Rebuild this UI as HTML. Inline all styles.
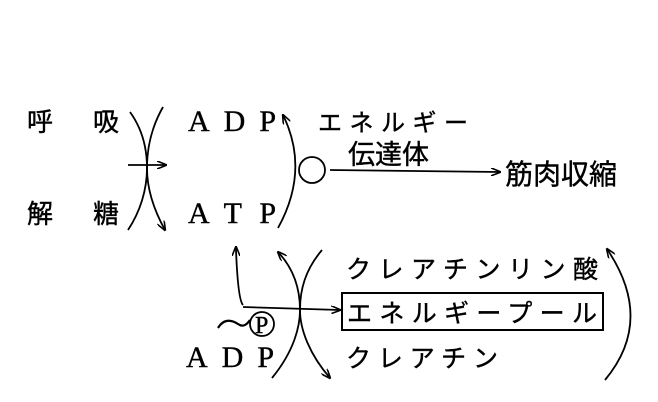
<!DOCTYPE html>
<html><head><meta charset="utf-8"><style>
html,body{margin:0;padding:0;background:#fff;}
svg{display:block}
text{font-family:"Liberation Serif","Noto Serif CJK SC",serif;fill:#000;stroke:#000;stroke-width:0.4}
.j{font-family:"Liberation Sans","Noto Sans CJK JP",sans-serif}
</style></head><body>
<svg width="658" height="402" viewBox="0 0 658 402" xmlns="http://www.w3.org/2000/svg">
<defs><marker id="a" markerWidth="10" markerHeight="8" refX="9" refY="4" orient="auto" markerUnits="userSpaceOnUse"><path d="M0,0 L10,4 L0,8" fill="none" stroke="#000" stroke-width="1.6"/></marker></defs>
<g fill="none" stroke="#000" stroke-width="1.8">
<path d="M130,112 C143,130 147,150 147,168 C147,190 155,212 165,230" marker-end="url(#a)"/>
<path d="M163,107 C151,128 147,150 147,168 C147,190 140,212 128,230"/>
<path d="M128,165 L166,165" marker-end="url(#a)"/>
<path d="M278,228 Q310,170 283,115" marker-end="url(#a)"/>
<circle cx="312" cy="170" r="13"/>
<path d="M330,170 L500,172" marker-end="url(#a)"/>
<path d="M243,305 Q238,300 236,250 L236,247" marker-end="url(#a)"/>
<path d="M243,307 L340,310" marker-end="url(#a)"/>
<circle cx="262" cy="324" r="12"/>
<path d="M218,328 C224,318 232,320 238,324 C242,327 246,326 250,320" stroke-width="2.2"/>
<path d="M272,378 C295,350 300,325 300,310 C300,290 295,270 278,252" marker-end="url(#a)"/>
<path d="M322,250 C305,270 300,290 300,310 C300,330 310,355 330,378" marker-end="url(#a)"/>
<path d="M605,380 Q655,320 607,249" marker-end="url(#a)"/>
<rect x="342" y="293" width="261" height="37" stroke-width="2"/>
</g>
<text class="j" x="27" y="131" font-size="26">呼</text>
<text class="j" x="93" y="131" font-size="26">吸</text>
<text class="j" x="27" y="223" font-size="26">解</text>
<text class="j" x="93" y="223" font-size="26">糖</text>
<text x="188" y="131" font-size="30" textLength="88">ADP</text>
<text x="188" y="223" font-size="30" textLength="88">ATP</text>
<text class="j" x="318" y="131" font-size="24" textLength="150">エネルギー</text>
<text class="j" x="348" y="164" font-size="27">伝達体</text>
<text class="j" x="505" y="184" font-size="28">筋肉収縮</text>
<text class="j" x="346" y="278" font-size="25" textLength="252">クレアチンリン酸</text>
<text class="j" x="347" y="322" font-size="25" textLength="250">エネルギープール</text>
<text class="j" x="346" y="367" font-size="25" textLength="152">クレアチン</text>
<text x="255" y="333" font-size="24" style="font-family:'Liberation Serif',serif">P</text>
<text x="186" y="367" font-size="30" textLength="88">ADP</text>
</svg>
</body></html>
